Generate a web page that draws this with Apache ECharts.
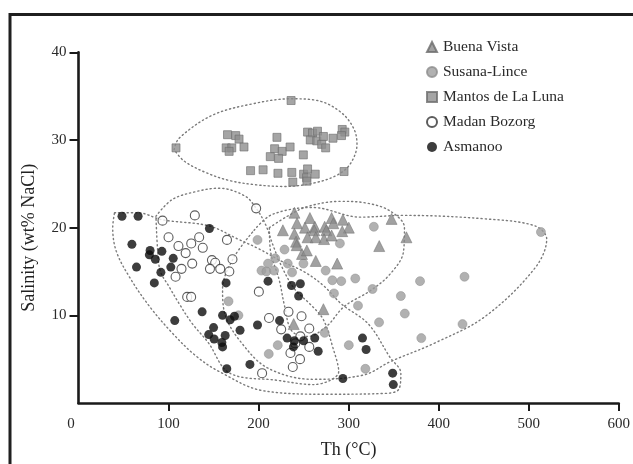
<!DOCTYPE html>
<html><head><meta charset="utf-8">
<script src="https://cdn.jsdelivr.net/npm/echarts@6/dist/echarts.min.js"></script>
<style>html,body{margin:0;padding:0;background:#fff}#c{width:633px;height:464px}</style>
</head><body><div id="c"></div>
<script>
// ---- data (Th °C, Salinity wt% NaCl) ----
const seriesNames = ["Buena Vista","Susana-Lince","Mantos de La Luna","Madan Bozorg","Asmanoo"];
const xTicks = [0,100,200,300,400,500,600];
const yTicks = [0,10,20,30,40];

const buenaVista = [[239.8,21.7],[257,21.1],[281.1,21.1],[293.6,20.9],[242.7,20.5],[251.5,20.0],[262.5,20.1],[273.4,20.1],[283,20.5],[300.2,20.0],[227,19.7],[261.8,19.7],[275.3,19.7],[292.9,19.6],[239.8,19.3],[254.4,18.9],[263.5,18.9],[272.7,18.7],[281.1,19.1],[241.6,18.4],[242.3,18.0],[248.2,17.0],[253.6,17.4],[263.5,16.2],[287.3,15.9],[347.7,21.0],[364.2,18.9],[334,17.9],[239,9.0],[272,10.7]];

const susanaLince = [[198.8,18.6],[228.8,17.5],[218.5,16.5],[210.5,15.9],[203.2,15.1],[208.7,15.0],[217.2,15.1],[232.4,15.9],[237.2,14.9],[249.8,15.9],[274.5,15.1],[290.3,18.2],[328,20.1],[281.9,14.0],[291.8,13.9],[307.4,14.2],[283.7,12.5],[326.5,13.0],[310.4,11.1],[166.6,11.6],[177.6,10.0],[273.4,8.0],[221.3,6.6],[211.3,5.6],[300.2,6.6],[318.6,3.9],[513.6,19.5],[379.3,13.9],[428.7,14.4],[358,12.2],[362.4,10.2],[333.8,9.2],[426.5,9.0],[380.7,7.4]];

const mantosLuna = [[108.3,29.1],[236.1,34.5],[165.5,30.6],[174.6,30.5],[178.3,30.1],[164,29.1],[170.2,29.1],[167.3,28.7],[183.8,29.2],[220.4,30.3],[217.8,29.0],[226.2,28.7],[235,29.2],[213,28.1],[222.2,27.9],[249.7,28.3],[254.4,30.9],[259.9,30.8],[265.4,31.0],[257.4,30.0],[264.6,29.9],[272,30.4],[270.1,29.5],[274.5,29.1],[282.6,30.2],[292.9,31.2],[295.8,30.9],[292.1,30.5],[294.9,26.4],[191.1,26.5],[205,26.6],[221.5,26.2],[236.9,26.3],[238,25.2],[250,26.1],[254.4,26.7],[253.3,25.7],[253.7,25.3],[262.9,26.1]];

const madanBozorg = [[93.3,20.8],[129.2,21.4],[100,18.9],[111,17.9],[119,17.1],[125.2,18.2],[134,18.9],[138,17.7],[126.3,15.9],[114.4,15.3],[107.8,14.4],[148.2,16.3],[151.8,16.0],[146,15.3],[120.7,12.1],[125.1,12.1],[197.3,22.2],[164.9,18.6],[157.4,15.3],[171,16.4],[167.5,15.0],[200.3,12.7],[233.2,10.4],[247.7,9.9],[211.6,9.7],[225.1,8.4],[256.3,8.5],[246.4,7.6],[240.7,6.8],[256.3,6.4],[235.4,5.7],[246,5.0],[238,4.1],[203.9,3.4]];

const asmanoo = [[48.3,21.3],[66.2,21.3],[59.3,18.1],[64.4,15.5],[79.5,17.4],[78.7,16.9],[85.3,16.4],[92.6,17.3],[105.2,16.5],[102.5,15.5],[91.5,14.9],[84.2,13.7],[145.4,19.9],[106.9,9.4],[137.3,10.4],[150,8.6],[144.6,7.8],[150.6,7.3],[163.9,13.7],[210.5,13.9],[236.6,13.4],[246.4,13.6],[244.5,12.2],[160,10.0],[168.4,9.5],[173.2,9.9],[162.9,7.7],[159.2,6.9],[160,6.4],[179.4,8.3],[198.8,8.9],[223.3,9.4],[231.7,7.4],[239.8,7.1],[238.7,6.4],[250,7.1],[262.4,7.4],[266.2,5.9],[190.4,4.4],[164.7,3.9],[293.6,2.8],[315.4,7.4],[319.4,6.1],[348.9,3.4],[349.6,2.1]];

// dotted group envelopes (closed)
const envMantos = [[106.2,28.9],[111.7,30.2],[148.2,32.8],[192.2,34.1],[236.1,34.7],[265.4,34.5],[291,33.2],[305.7,31.3],[309.3,29.5],[302,27.3],[287.4,26.0],[261.8,25.1],[228.8,24.7],[195.9,24.9],[166.6,25.4],[141,26.3],[117.2,27.6],[106.2,28.9]];
const envAsmanoo = [[40,21.7],[66,21.7],[93,20.9],[145,20.2],[177,18.7],[200,17.6],[225,16.2],[250,15.0],[272,13.4],[292,11.3],[322,9],[346,5.2],[358,3.4],[356,1.6],[342,1.1],[276,1.0],[205,1.4],[156,3.6],[130,5.4],[104,8],[79,11],[57,14.3],[42,17.3],[38,20],[40,21.7]];
const envMadan = [[86,21.3],[104,23.2],[130,24.1],[156,24.5],[185,23.6],[197.3,22.2],[208,20.3],[216,18],[226,15.5],[240,13],[258,11.2],[272,9.5],[282,6.5],[289,3.6],[261,2.1],[220,2.6],[168,3.4],[144,6.9],[126,9.1],[112,11.3],[101,13.2],[91,15],[88,17.3],[86,21.3]];
const envBuena = [[212,20],[232,21.3],[254,22.4],[291,23],[320,22.8],[346,21.9],[362,20],[361,17.3],[346,14.7],[324,12.8],[295,11],[276,8.8],[255,7.6],[237,8.2],[229,11],[223,14],[213,17.5],[212,20]];
const envSusana = [[195,19.7],[215,21.5],[260,22.3],[313,21.2],[361,21.4],[452,21],[507,20.2],[520,18.7],[507,15.4],[452,9.9],[397,6.9],[346,4.7],[317,3.2],[260,2.7],[210,4],[180,7],[163,10],[160,13],[172,16.5],[195,19.7]];

const FONT = '"Liberation Serif","Times New Roman",serif';
const chart = echarts.init(document.getElementById('c'), null, {renderer:'canvas'});

function env(name, data){
  return {name, type:'line', data, smooth:0.35, symbol:'none', silent:true, z:1,
    lineStyle:{color:'#7a7a7a', width:1.4, type:[1.2,3], cap:'round'}, legendHoverLink:false};
}

chart.setOption({
  animation:false,
  backgroundColor:'#fff',
  grid:{left:78.5, right:8.3, top:52.3, bottom:52, containLabel:false},
  xAxis:{type:'value', min:0, max:600, interval:100,
    name:'Th (°C)', nameLocation:'middle', nameGap:38,
    nameTextStyle:{fontFamily:FONT, fontSize:18, color:'#222'},
    axisLine:{show:true, lineStyle:{color:'#1a1a1a', width:2.6}},
    axisTick:{show:true, inside:false, length:8, lineStyle:{color:'#1a1a1a', width:2}},
    axisLabel:{showMinLabel:false, margin:14, fontFamily:FONT, fontSize:15, color:'#2a2a2a'},
    splitLine:{show:false}},
  yAxis:{type:'value', min:0, max:40, interval:10,
    name:'Salinity (wt% NaCl)', nameLocation:'middle', nameGap:40,
    nameTextStyle:{fontFamily:FONT, fontSize:18, color:'#222', padding:[0,20,0,0]},
    axisLine:{show:true, lineStyle:{color:'#1a1a1a', width:2.6}},
    axisTick:{show:true, inside:false, length:9, lineStyle:{color:'#1a1a1a', width:2}},
    axisLabel:{showMinLabel:false, margin:12, fontFamily:FONT, fontSize:15, color:'#2a2a2a'},
    splitLine:{show:false}},
  legend:{orient:'vertical', left:421, top:34, itemWidth:10, itemHeight:10, itemGap:9,
    data:seriesNames,
    textStyle:{fontFamily:FONT, fontSize:15.5, color:'#2a2a2a', lineHeight:16, padding:[0,0,0,1]}},
  graphic:[
    {type:'rect', shape:{x:10, y:14.5, width:700, height:500}, style:{fill:'none', stroke:'#1f1f1f', lineWidth:3}, z:100},
    {type:'text', x:71, y:424, style:{text:'0', fontFamily:FONT, fontSize:15, fill:'#2a2a2a', align:'center', verticalAlign:'middle'}}
  ],
  series:[
    env('envMantos', envMantos), env('envAsmanoo', envAsmanoo), env('envMadan', envMadan),
    env('envBuena', envBuena), env('envSusana', envSusana),
    {name:'Susana-Lince', type:'scatter', data:susanaLince, symbol:'circle', symbolSize:9, z:3,
      itemStyle:{color:'#9d9d9d', borderColor:'#8c8c8c', borderWidth:0.6}},
    {name:'Mantos de La Luna', type:'scatter', data:mantosLuna, symbol:'rect', symbolSize:8, z:3,
      itemStyle:{color:'#8e8e8e', borderColor:'#6e6e6e', borderWidth:0.8}},
    {name:'Buena Vista', type:'scatter', data:buenaVista, symbol:'triangle', symbolSize:11, z:4,
      itemStyle:{color:'#8a8a8a', borderColor:'#6c6c6c', borderWidth:0.6}},
    {name:'Madan Bozorg', type:'scatter', data:madanBozorg, symbol:'circle', symbolSize:9, z:5,
      itemStyle:{color:'#ffffff', borderColor:'#333', borderWidth:1.1}},
    {name:'Asmanoo', type:'scatter', data:asmanoo, symbol:'circle', symbolSize:9, z:6,
      itemStyle:{color:'#0d0d0d'}}
  ]
});
</script></body></html>
